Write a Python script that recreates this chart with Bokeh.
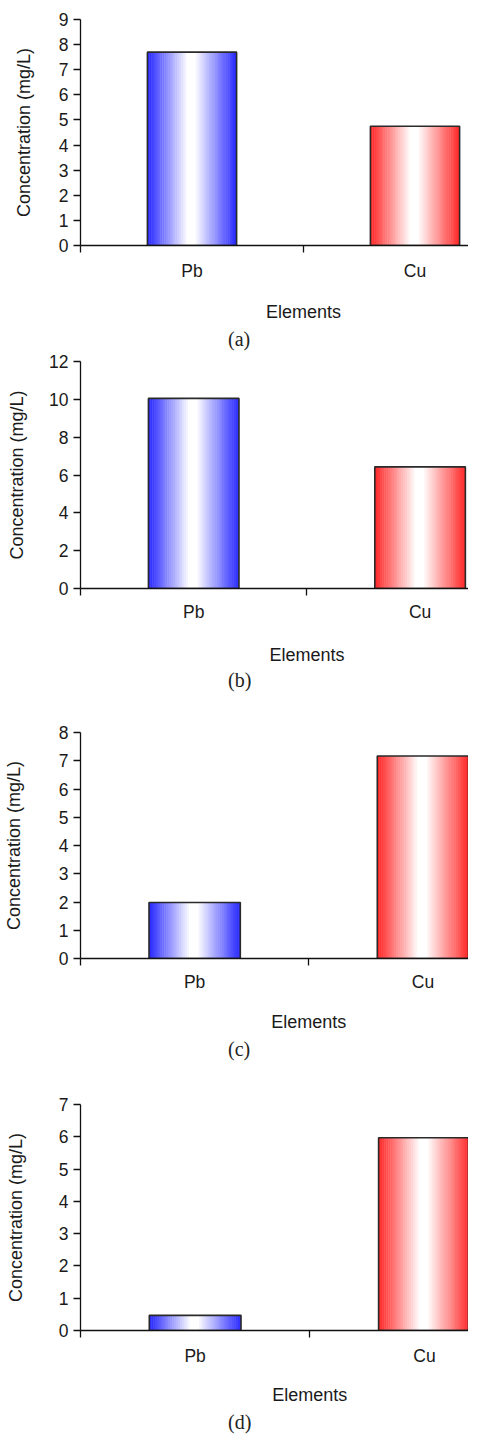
import numpy as np
from bokeh.plotting import figure
from bokeh.layouts import column
from bokeh.models import FixedTicker, Title, Range1d, ColumnDataSource
from bokeh.embed import file_html
from bokeh.resources import INLINE

# ---------------- data ----------------
elements = ["Pb", "Cu"]
panel_labels = ["(a)", "(b)", "(c)", "(d)"]
conc_a = [7.7, 4.75]
conc_b = [10.05, 6.43]
conc_c = [1.98, 7.17]
conc_d = [0.47, 5.97]
y_max = [9, 12, 8, 7]
y_step = [1, 2, 1, 1]
x_title = "Elements"
y_title = "Concentration (mg/L)"

# ---------------- styles ----------------
BAR_COLORS = [(38, 38, 255), (255, 38, 38)]
BAR_W = 0.4
WHITE_AT = 0.49
N_STRIPS = 48
FIG_W = 468
LEFT = 80
SANS = "Liberation Sans"
SERIF = "Liberation Serif"
TXT = "#1a1a1a"

# category px, top border, frame h, y-title standoff, text offsets below frame
layout_specs = [
    dict(catw=223.0, top=19, fh=226, als=22, pb=26, el=67, cap=94, cap_x=239),
    dict(catw=226.4, top=10, fh=227, als=19, pb=25, el=67, cap=92, cap_x=239),
    dict(catw=228.3, top=40, fh=226, als=32, pb=25, el=64, cap=91, cap_x=239),
    dict(catw=229.3, top=43, fh=226, als=30, pb=26, el=65, cap=92, cap_x=239),
]


def hexcol(rgb):
    return "#%02x%02x%02x" % rgb


def make_panel(values, ymax, ystep, caption, spec):
    catw, top, fh = spec["catw"], spec["top"], spec["fh"]
    ls = int(round(spec["pb"] - 18.5))
    s1 = max(0, 2 * (spec["cap"] - spec["el"] - 23.5))
    spacer = max(0, spec["el"] - ls - 46.5 - s1 / 2)
    bottom = int(np.ceil(spec["cap"] + 12))
    x_end = (FIG_W - LEFT) / catw
    p = figure(width=FIG_W, height=top + fh + bottom,
               x_range=Range1d(0, x_end), y_range=Range1d(0, ymax),
               output_backend="svg", toolbar_location=None,
               min_border_left=LEFT, min_border_right=0,
               min_border_top=top, min_border_bottom=bottom)
    p.outline_line_color = None
    p.grid.visible = False
    p.background_fill_color = "white"
    p.border_fill_color = "white"

    centers = [0.5 + i for i in range(len(values))]

    # bars: vertical colour gradient built from thin strips of each bar
    fr = np.linspace(0, 1, N_STRIPS + 1)
    lefts, rights, tops, cols = [], [], [], []
    for xc, v, rgb in zip(centers, values, BAR_COLORS):
        x0 = xc - BAR_W / 2
        for k in range(N_STRIPS):
            l = x0 + BAR_W * fr[k]
            r = x0 + BAR_W * fr[k + 1] + (0.002 if k < N_STRIPS - 1 else 0)
            fm = (fr[k] + fr[k + 1]) / 2
            if fm < WHITE_AT:
                d = (WHITE_AT - fm) / WHITE_AT
            else:
                d = (fm - WHITE_AT) / (1 - WHITE_AT)
            s = float(np.clip((d - 0.08) / 0.92, 0, 1))
            col = tuple(int(round(255 + (c - 255) * s)) for c in rgb)
            lefts.append(l); rights.append(r); tops.append(v); cols.append(hexcol(col))
    src = ColumnDataSource(dict(left=lefts, right=rights, top=tops,
                                bottom=[0] * len(tops), color=cols))
    p.quad(left="left", right="right", top="top", bottom="bottom", fill_color="color",
           line_color=None, source=src)
    p.vbar(x=centers, top=values, width=BAR_W, bottom=0, fill_color=None,
           line_color="#2a2a2a", line_width=1.6)

    # x axis: labels at category centres, tick marks at category boundaries
    xa = p.xaxis[0]
    xa.ticker = FixedTicker(ticks=centers, minor_ticks=[0, 1, 2])
    xa.major_label_overrides = {c: e for c, e in zip(centers, elements)}
    xa.major_tick_out = 0
    xa.major_tick_in = 0
    xa.minor_tick_out = 7
    xa.minor_tick_in = 0
    xa.minor_tick_line_color = "#111111"
    xa.minor_tick_line_width = 1.3
    xa.axis_line_color = "#111111"
    xa.axis_line_width = 1.3
    xa.major_label_standoff = ls
    xa.major_label_text_font = SANS
    xa.major_label_text_font_size = "17.5px"
    xa.major_label_text_color = TXT
    xa.axis_label = " "
    xa.axis_label_text_font_size = "1px"
    xa.axis_label_standoff = int(round(spacer))

    ya = p.yaxis[0]
    ya.ticker = FixedTicker(ticks=list(range(0, ymax + 1, ystep)))
    ya.major_tick_out = 7
    ya.major_tick_in = 0
    ya.minor_tick_out = 0
    ya.minor_tick_in = 0
    ya.major_tick_line_color = "#111111"
    ya.major_tick_line_width = 1.3
    ya.axis_line_color = "#111111"
    ya.axis_line_width = 1.3
    ya.major_label_standoff = 5
    ya.major_label_text_font = SANS
    ya.major_label_text_font_size = "17.5px"
    ya.major_label_text_color = TXT
    ya.axis_label = y_title
    ya.axis_label_text_font = SANS
    ya.axis_label_text_font_size = "18px"
    ya.axis_label_text_font_style = "normal"
    ya.axis_label_text_color = TXT
    ya.axis_label_standoff = spec["als"]

    t1 = Title(text=x_title, align="left", offset=catw - 37.5,
               text_font=SANS, text_font_size="18px", text_font_style="normal",
               text_color=TXT, standoff=int(round(s1)))
    t2 = Title(text=caption, align="left", offset=spec["cap_x"] - LEFT - 11.5,
               text_font=SERIF, text_font_size="20px", text_font_style="normal",
               text_color="#222222", standoff=0)
    p.add_layout(t1, "below")
    p.add_layout(t2, "below")
    return p


series = [conc_a, conc_b, conc_c, conc_d]
figs = [make_panel(series[i], y_max[i], y_step[i], panel_labels[i], layout_specs[i])
        for i in range(4)]
layout = column(*figs, spacing=0)

open("out.html", "w").write(file_html(layout, INLINE))
